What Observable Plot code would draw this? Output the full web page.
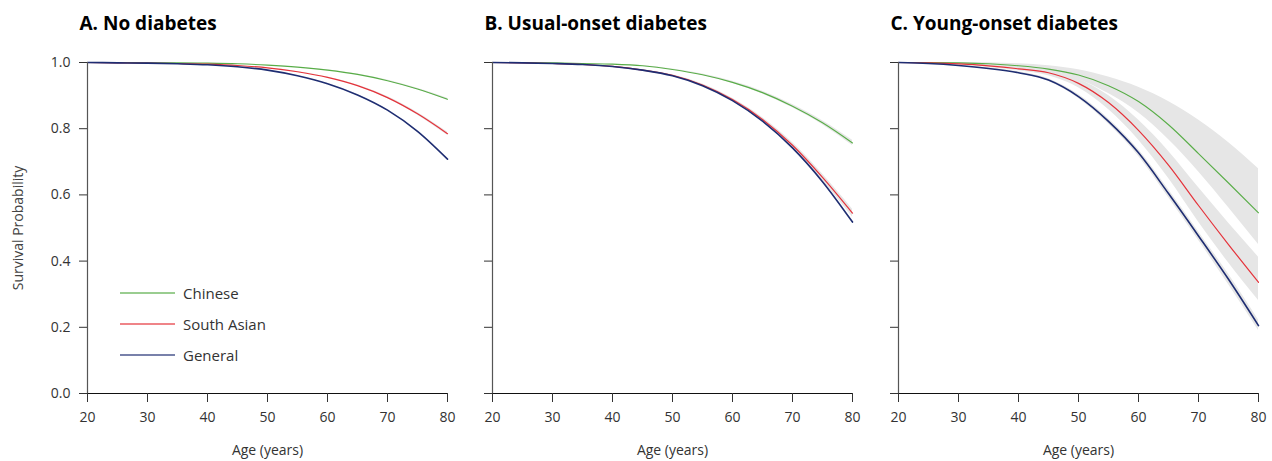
<!DOCTYPE html>
<html><head><meta charset="utf-8">
<script src="https://cdn.jsdelivr.net/npm/d3@7"></script>
<script src="https://cdn.jsdelivr.net/npm/@observablehq/plot@0.6"></script>
<style>
body{margin:0;background:#fff;font-family:"Open Sans",sans-serif;}
#wrap{position:relative;width:1272px;height:461px;overflow:hidden;background:#fff}
.panel{position:absolute;top:0}
#legend{position:absolute;left:120px;top:277px;font-size:15px;color:#333;font-family:"Open Sans",sans-serif}
.row{height:31px;display:flex;align-items:center}
.row svg{margin-right:8px}
</style></head><body><div id="wrap"><div id="legend"></div></div>
<script>
// ---- data ----
const ages = [20,25,30,35,40,45,50,55,60,65,70,75,80];
const seriesNames = ["Chinese","South Asian","General"];
const seriesColors = ["#58ad47","#e5323a","#1e2d72"];
const xTicks = [20,30,40,50,60,70,80];
const yTicks = [0,0.2,0.4,0.6,0.8,1.0];
const panelTitles = ["A. No diabetes","B. Usual-onset diabetes","C. Young-onset diabetes"];

// A. No diabetes
const A_chinese     = [1.000,1.000,0.999,0.999,0.998,0.996,0.992,0.986,0.977,0.964,0.945,0.920,0.889];
const A_southAsian  = [1.000,0.999,0.998,0.997,0.995,0.991,0.984,0.972,0.955,0.930,0.894,0.845,0.785];
const A_general     = [1.000,0.999,0.998,0.996,0.993,0.987,0.977,0.960,0.936,0.902,0.856,0.792,0.708];
const A_chinese_hw    = [0,0,0,0,0,0,0,0,0.001,0.001,0.002,0.002,0.003];
const A_southAsian_hw = [0,0,0,0,0,0,0,0.001,0.001,0.002,0.003,0.004,0.005];
const A_general_hw    = [0,0,0,0,0,0,0,0,0.001,0.001,0.001,0.002,0.002];

// B. Usual-onset diabetes
const B_chinese     = [1.000,1.000,0.999,0.997,0.995,0.990,0.979,0.963,0.940,0.909,0.868,0.818,0.757];
const B_southAsian  = [1.000,0.999,0.997,0.994,0.988,0.977,0.961,0.932,0.888,0.828,0.750,0.653,0.545];
const B_general     = [1.000,0.999,0.997,0.994,0.988,0.977,0.960,0.930,0.885,0.823,0.742,0.640,0.518];
const B_chinese_hw    = [0,0,0,0,0,0.001,0.001,0.002,0.003,0.004,0.005,0.006,0.008];
const B_southAsian_hw = [0,0,0,0,0.001,0.001,0.002,0.003,0.004,0.006,0.008,0.010,0.012];
const B_general_hw    = [0,0,0,0,0,0.001,0.001,0.001,0.002,0.002,0.003,0.003,0.004];

// C. Young-onset diabetes
const C_chinese     = [1.000,1.000,0.999,0.996,0.990,0.980,0.962,0.930,0.882,0.812,0.725,0.636,0.546];
const C_southAsian  = [1.000,0.999,0.996,0.990,0.981,0.969,0.937,0.879,0.795,0.690,0.568,0.450,0.336];
const C_general     = [1.000,0.997,0.991,0.982,0.969,0.947,0.897,0.822,0.727,0.604,0.476,0.345,0.205];
const C_chinese_lo    = [1.000,1.000,0.998,0.993,0.985,0.971,0.949,0.906,0.848,0.767,0.670,0.562,0.450];
const C_chinese_hi    = [1.000,1.000,1.000,0.999,0.996,0.990,0.978,0.956,0.925,0.882,0.826,0.758,0.679];
const C_southAsian_lo = [1.000,0.998,0.994,0.986,0.975,0.960,0.924,0.858,0.766,0.650,0.518,0.395,0.281];
const C_southAsian_hi = [1.000,1.000,0.998,0.994,0.987,0.978,0.950,0.900,0.826,0.732,0.622,0.515,0.412];
const C_general_lo    = [1.000,0.996,0.990,0.980,0.966,0.943,0.891,0.814,0.717,0.592,0.463,0.329,0.190];
const C_general_hi    = [1.000,0.998,0.992,0.984,0.972,0.951,0.903,0.830,0.737,0.616,0.489,0.361,0.222];

// ---- build tables ----
function rowsFromHW(vals, hws) {
  return vals.flatMap((v, si) => ages.map((a, i) => ({
    age: a, s: seriesNames[si], v: v[i], lo: v[i] - hws[si][i], hi: v[i] + hws[si][i]})));
}
function rowsFromLoHi(vals, los, his) {
  return vals.flatMap((v, si) => ages.map((a, i) => ({
    age: a, s: seriesNames[si], v: v[i], lo: los[si][i], hi: his[si][i]})));
}
const panels = [
  {title: panelTitles[0], rows: rowsFromHW([A_chinese,A_southAsian,A_general],[A_chinese_hw,A_southAsian_hw,A_general_hw]),
   left: 0, width: 460, mL: 87, mR: 13, showY: true},
  {title: panelTitles[1], rows: rowsFromHW([B_chinese,B_southAsian,B_general],[B_chinese_hw,B_southAsian_hw,B_general_hw]),
   left: 460, width: 405, mL: 32, mR: 13, showY: false},
  {title: panelTitles[2], rows: rowsFromLoHi([C_chinese,C_southAsian,C_general],[C_chinese_lo,C_southAsian_lo,C_general_lo],[C_chinese_hi,C_southAsian_hi,C_general_hi]),
   left: 865, width: 407, mL: 33, mR: 14, showY: false}
];

const widths = {"Chinese": 1.1, "South Asian": 1.2, "General": 1.6};
const curve = "monotone-x";
const wrap = document.getElementById("wrap");
for (const p of panels) {
  const marks = [
    Plot.areaY(p.rows, {x: "age", y1: "lo", y2: "hi", z: "s", fill: "#e6e6e6", curve}),
    ...seriesNames.map((s, i) => Plot.line(p.rows.filter(d => d.s === s),
      {x: "age", y: "v", stroke: seriesColors[i], strokeWidth: widths[s], curve})),
    Plot.ruleX([20], {stroke: "#555", strokeWidth: 1.2}),
    Plot.ruleY([0], {stroke: "#111", strokeWidth: 1}),
    Plot.axisX({ticks: xTicks, tickSize: 9, tickPadding: 10, label: null, fontSize: 14}),
    Plot.axisY({ticks: yTicks, tickSize: 8, tickPadding: 9, label: null, fontSize: 14,
      tickFormat: p.showY ? d3.format(".1f") : () => ""}),
    Plot.text([p.title], {frameAnchor: "top-left", dx: -8, dy: -33, lineAnchor: "bottom", textAnchor: "start",
      fontSize: 19, fontWeight: "bold", fill: "#000"}),
    Plot.text(["Age (years)"], {frameAnchor: "bottom", dy: 57.5, lineAnchor: "middle", fontSize: 14, fill: "#333"})
  ];
  if (p.showY) marks.push(Plot.text(["Survival Probability"], {frameAnchor: "left", rotate: -90, dx: -69,
      textAnchor: "middle", lineAnchor: "middle", fontSize: 14, fill: "#444"}));
  const svg = Plot.plot({
    width: p.width, height: 461, marginLeft: p.mL, marginRight: p.mR, marginTop: 62, marginBottom: 68,
    style: {fontFamily: "Open Sans, sans-serif", fontSize: "14px", color: "#333", background: "transparent"},
    x: {domain: [20, 80]}, y: {domain: [0, 1]},
    marks
  });
  svg.classList.add("panel");
  svg.style.left = p.left + "px";
  wrap.appendChild(svg);
}

// legend (HTML)
const legend = document.getElementById("legend");
wrap.appendChild(legend);
seriesNames.forEach((s, i) => {
  const r = document.createElement("div"); r.className = "row";
  r.innerHTML = `<svg width="55" height="4"><line x1="0" x2="55" y1="2" y2="2" stroke="${seriesColors[i]}" stroke-width="1.3" stroke-opacity="0.8"/></svg><span>${s}</span>`;
  legend.appendChild(r);
});
</script></body></html>
